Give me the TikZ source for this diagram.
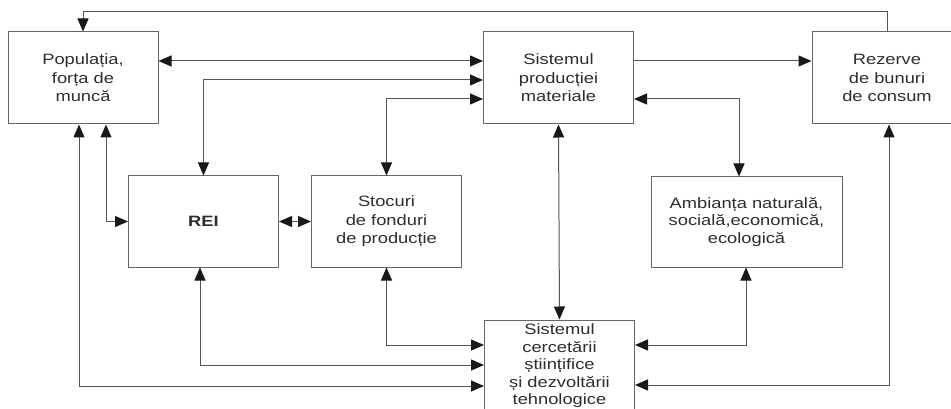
\documentclass[tikz,border=0pt]{standalone}
\usepackage{fontspec}
\setmainfont{Liberation Sans}[FakeStretch=1.22]
\usetikzlibrary{arrows.meta}
\definecolor{boxgray}{HTML}{666666}
\definecolor{linegray}{HTML}{555555}
\definecolor{textgray}{HTML}{2E2E2E}
\tikzset{
  box/.style={draw=boxgray, line width=1pt, minimum width=150pt, minimum height=92pt,
    inner sep=0pt, align=center, text=textgray, font=\fontsize{15}{18.5}\selectfont},
  tip/.tip={Triangle[length=13pt,width=11pt,color=black!90]},
  arr/.style={draw=linegray, line width=1pt, -tip},
  dbl/.style={draw=linegray, line width=1pt, tip-tip}
}
\begin{document}
\begin{tikzpicture}[x=1pt,y=-1pt]
\useasboundingbox (0,0) rectangle (951,409);
\clip (0,0) rectangle (951,409);
\fill[white] (0,0) rectangle (951,409);
% helper rows
\coordinate (y12) at (0,12);
\coordinate (y61) at (0,61);
\coordinate (y80) at (0,80);
\coordinate (y99) at (0,99);
\coordinate (y345) at (0,345);
\coordinate (y365) at (0,365);
\coordinate (y385) at (0,385);
\coordinate (y386) at (0,386);
% boxes
\node[box] (Pop) at (83,78) {Populația,\\forța de\\muncă};
\node[box] (SPM) at (558.5,78) {Sistemul\\producției\\materiale};
\node[box] (Rez) at (887,78) {Rezerve\\de bunuri\\de consum};
\node[box, minimum height=91pt] (REI) at (203.5,221.5) {\textbf{REI}};
\node[box, minimum height=91pt] (Sto) at (386.5,221.5) {Stocuri\\de fonduri\\de producție};
\node[box, minimum width=191pt, minimum height=90pt, font=\fontsize{15}{17.5}\selectfont] (Amb) at (746.5,222) {Ambianța naturală,\\socială,economică,\\ecologică};
\node[box, font=\fontsize{15}{17.5}\selectfont] (SCS) at (559.5,366) {Sistemul\\cercetării\\științifice\\și dezvoltării\\tehnologice};
% connectors
\draw[arr] (Rez.north) -- (Rez.north |- y12) -| (Pop.north);
\draw[dbl] (Pop.east |- y61) -- (SPM.west |- y61);
\draw[dbl] (SPM.west |- y80) -| (REI.north);
\draw[dbl] (SPM.west |- y99) -| (Sto.north);
\draw[arr] (SPM.east |- y61) -- (Rez.west |- y61);
\draw[dbl] (SPM.east |- y99) -| ([xshift=-7.5pt]Amb.north);
\draw[dbl] (SPM.south) -- (SCS.north);
\draw[dbl] ([xshift=2pt]Rez.south) |- (SCS.east |- y385);
\draw[dbl] ([xshift=-0.5pt]Amb.south) |- (SCS.east |- y345);
\draw[dbl] ([xshift=23pt]Pop.south) |- (REI.west);
\draw[dbl] ([xshift=-4pt]Pop.south) |- (SCS.west |- y386);
\draw[dbl] ([xshift=-3.5pt]REI.south) |- (SCS.west |- y365);
\draw[dbl] (Sto.south) |- (SCS.west |- y345);
\draw[dbl] (REI.east) -- (Sto.west);
\end{tikzpicture}
\end{document}
